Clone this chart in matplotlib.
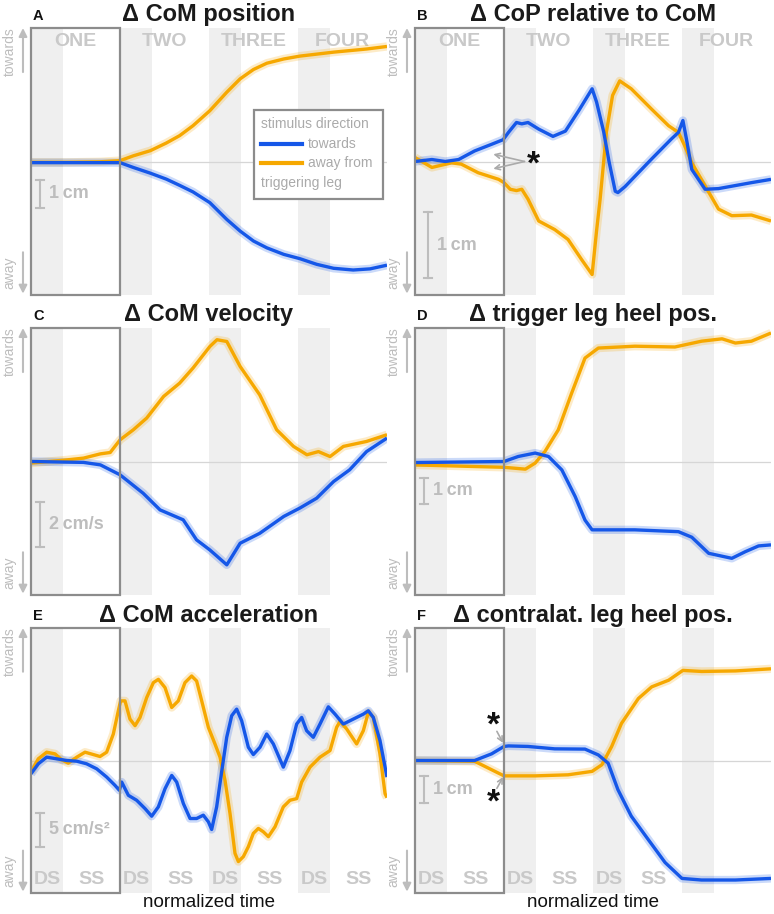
import numpy as np
import matplotlib
matplotlib.use("Agg")
import matplotlib.pyplot as plt
from matplotlib.patches import Rectangle

plt.rcParams['font.family'] = ['Liberation Sans', 'DejaVu Sans']

BLUE = '#1557e8'
ORANGE = '#f6a800'
LIGHT = '#bdbdbd'
BAND = '#efefef'
BOX = '#8c8c8c'

# --- datos (tiempo normalizado en pasos, 0..4) ---
step_names = ['ONE', 'TWO', 'THREE', 'FOUR']
phase_names = ['DS', 'SS']
ds_len = 0.36  # fraccion de doble apoyo en cada paso

# A: CoM position [cm]
a_t_blue = [0, 0.78, 1.0, 1.15, 1.34, 1.52, 1.67, 1.82, 2.01, 2.20, 2.35, 2.50, 2.65,
            2.84, 3.02, 3.21, 3.40, 3.62, 3.81, 4.0]
a_blue = [-0.04, -0.04, -0.04, -0.21, -0.41, -0.62, -0.84, -1.07, -1.45, -2.04, -2.45,
          -2.80, -3.04, -3.27, -3.42, -3.62, -3.76, -3.82, -3.78, -3.65]
a_t_orange = [0, 0.40, 0.78, 1.0, 1.15, 1.34, 1.52, 1.67, 1.82, 2.01, 2.20, 2.35, 2.50,
              2.65, 2.84, 3.02, 3.40, 3.77, 4.0]
a_orange = [-0.03, -0.03, -0.01, 0.03, 0.2, 0.38, 0.65, 0.91, 1.26, 1.79, 2.44, 2.91,
            3.24, 3.46, 3.61, 3.71, 3.85, 3.96, 4.05]

# B: CoP relative to CoM [cm]
b_t_blue = [0, 0.19, 0.34, 0.49, 0.67, 0.86, 0.99, 1.05, 1.14, 1.20, 1.27, 1.39, 1.55,
            1.69, 1.84, 1.99, 2.04, 2.12, 2.18, 2.25, 2.28, 2.36, 2.66, 2.88, 2.96, 3.01,
            3.05, 3.11, 3.26, 3.41, 3.78, 4.0]
b_blue = [0, 0.03, 0, 0.03, 0.16, 0.26, 0.33, 0.44, 0.59, 0.57, 0.59, 0.49, 0.38,
          0.46, 0.77, 1.10, 0.90, 0.45, 0.0, -0.45, -0.47, -0.38, 0.04, 0.34, 0.44, 0.62,
          0.34, -0.12, -0.42, -0.41, -0.32, -0.27]
b_t_orange = [0, 0.19, 0.41, 0.52, 0.71, 0.94, 1.0, 1.07, 1.14, 1.20, 1.27, 1.39, 1.57,
              1.72, 1.87, 1.99, 2.04, 2.08, 2.12, 2.15, 2.22, 2.30, 2.43, 2.66, 2.85,
              2.96, 3.03, 3.11, 3.26, 3.41, 3.56, 3.78, 4.0]
b_orange = [0.06, -0.09, -0.02, -0.04, -0.17, -0.27, -0.32, -0.42, -0.44, -0.42, -0.57,
            -0.90, -1.03, -1.18, -1.48, -1.71, -1.05, -0.57, 0.0, 0.44, 1.0, 1.22, 1.10,
            0.79, 0.54, 0.44, 0.24, -0.02, -0.37, -0.72, -0.82, -0.81, -0.90]

# C: CoM velocity [cm/s]
c_t_blue = [0, 0.59, 0.78, 1.0, 1.26, 1.45, 1.71, 1.86, 2.01, 2.20, 2.35, 2.57, 2.84,
            3.02, 3.21, 3.40, 3.58, 3.77, 4.0]
c_blue = [0, -0.04, -0.15, -0.59, -1.41, -2.15, -2.59, -3.48, -3.93, -4.59, -3.63,
          -3.19, -2.44, -2.07, -1.63, -0.89, -0.37, 0.44, 1.04]
c_t_orange = [0, 0.40, 0.59, 0.78, 0.89, 1.0, 1.15, 1.30, 1.49, 1.67, 1.82, 2.01, 2.09,
              2.20, 2.35, 2.57, 2.76, 2.95, 3.10, 3.23, 3.36, 3.51, 3.77, 4.0]
c_orange = [-0.07, 0.07, 0.15, 0.34, 0.4, 0.96, 1.41, 1.93, 2.89, 3.48, 4.15, 5.11, 5.41,
            5.33, 4.22, 2.96, 1.41, 0.67, 0.30, 0.44, 0.22, 0.67, 0.89, 1.19]

# D: trigger leg heel position [cm]
d_t_blue = [0, 1.0, 1.16, 1.35, 1.50, 1.65, 1.80, 1.91, 1.99, 2.47, 2.96, 3.11, 3.30,
            3.56, 3.71, 3.86, 4.0]
d_blue = [-0.04, 0, 0.19, 0.32, 0.19, -0.32, -1.33, -2.22, -2.59, -2.59, -2.66, -2.87,
          -3.48, -3.67, -3.42, -3.2, -3.16]
d_t_orange = [0, 1.0, 1.24, 1.35, 1.46, 1.61, 1.76, 1.91, 2.06, 2.47, 2.92, 3.22, 3.45,
              3.60, 3.78, 4.0]
d_orange = [-0.13, -0.22, -0.29, -0.06, 0.38, 1.2, 2.59, 3.92, 4.30, 4.37, 4.34, 4.56,
            4.65, 4.49, 4.56, 4.87]

# E: CoM acceleration [cm/s^2]
e_t_blue = [0, 0.082, 0.176, 0.288, 0.401, 0.513, 0.625, 0.738, 0.850, 0.944, 0.993,
            1.019, 1.094, 1.187, 1.281, 1.356, 1.431, 1.506, 1.581, 1.637, 1.712, 1.787,
            1.861, 1.936, 1.993, 2.030, 2.086, 2.139, 2.199, 2.255, 2.311, 2.367, 2.442,
            2.498, 2.573, 2.648, 2.723, 2.835, 2.910, 2.985, 3.041, 3.097, 3.172, 3.247,
            3.341, 3.416, 3.509, 3.622, 3.734, 3.790, 3.846, 3.921, 4.0]
e_blue = [-1.96, -0.49, 0.49, 0.25, 0.0, -0.10, -0.49, -1.23, -2.45, -3.68, -4.41,
          -3.19, -5.15, -5.88, -7.11, -8.24, -6.86, -4.17, -2.21, -3.19, -6.37, -8.58,
          -8.58, -8.09, -9.07, -10.2, -6.86, -1.96, 3.43, 6.62, 7.60, 5.88, 1.96, 0.88,
          1.96, 3.92, 2.45, -0.98, 1.47, 5.39, 6.37, 4.41, 3.43, 5.39, 7.94, 6.86, 5.39,
          6.13, 6.86, 7.35, 6.37, 2.94, -2.45]
e_t_orange = [0, 0.082, 0.176, 0.270, 0.345, 0.419, 0.513, 0.607, 0.700, 0.775, 0.850,
              0.925, 0.981, 1.007, 1.056, 1.112, 1.169, 1.225, 1.300, 1.375, 1.431, 1.506,
              1.581, 1.655, 1.730, 1.805, 1.861, 1.918, 1.993, 2.067, 2.124, 2.180, 2.236,
              2.292, 2.330, 2.386, 2.442, 2.498, 2.554, 2.610, 2.667, 2.742, 2.835, 2.910,
              2.985, 3.041, 3.135, 3.247, 3.360, 3.434, 3.472, 3.547, 3.659, 3.734, 3.790,
              3.846, 3.921, 3.978, 4.0]
e_orange = [-1.72, 0.25, 1.23, 0.98, 0.10, -0.39, 0.49, 1.23, 0.88, 0.59, 1.23, 3.92,
            7.35, 8.82, 8.82, 6.13, 5.15, 6.37, 9.31, 11.52, 12.01, 10.78, 7.84, 8.82,
            11.52, 12.5, 11.76, 8.82, 4.90, 2.45, 0.49, -2.94, -7.84, -13.73, -14.95,
            -14.22, -12.75, -10.78, -10.05, -10.54, -11.27, -9.80, -6.86, -5.88, -5.64,
            -3.19, -0.98, 0.49, 1.47, 4.90, 5.78, 4.66, 2.45, 4.41, 7.11, 6.37, 0.98,
            -4.90, -5.49]

# F: contralateral leg heel position [cm]
f_t_blue = [0, 0.67, 0.86, 1.0, 1.05, 1.27, 1.57, 1.91, 2.06, 2.17, 2.28, 2.43, 2.62,
            2.81, 3.0, 3.22, 3.60, 4.0]
f_blue = [0, 0, 0.25, 0.53, 0.55, 0.53, 0.44, 0.43, 0.21, -0.1, -1.1, -2.1, -2.98,
          -3.85, -4.45, -4.51, -4.51, -4.45]
f_t_orange = [0, 0.67, 0.79, 1.0, 1.35, 1.72, 1.99, 2.10, 2.21, 2.32, 2.51, 2.66, 2.85,
              3.01, 3.22, 3.60, 4.0]
f_orange = [0, -0.03, -0.23, -0.58, -0.58, -0.54, -0.41, -0.16, 0.53, 1.4, 2.34, 2.78,
            3.03, 3.4, 3.36, 3.38, 3.46]


def dibujar_panel(ax, letra, titulo, ylim, t_b, y_b, t_o, y_o, barra, texto_barra, barra_x):
    ax.set_xlim(0, 4)
    ax.set_ylim(-ylim, ylim)
    ax.axis('off')
    # bandas de doble apoyo
    for k in range(4):
        ax.axvspan(k, k + ds_len, color=BAND, lw=0, zorder=0)
    ax.axhline(0, color='#d6d6d6', lw=0.9, zorder=1)
    # caja del primer paso
    ax.add_patch(Rectangle((0, -ylim), 1, 2 * ylim, fill=False, ec=BOX, lw=1.6,
                           zorder=6, clip_on=False))
    # curvas con banda de confianza
    for t, y, c in [(t_o, y_o, ORANGE), (t_b, y_b, BLUE)]:
        ax.plot(t, y, color=c, lw=6, alpha=0.22, zorder=3, solid_capstyle='butt')
        ax.plot(t, y, color=c, lw=2.4, zorder=4, solid_capstyle='butt')
    # barra de escala
    ax.plot([barra_x, barra_x], barra, color=LIGHT, lw=1.5, zorder=5)
    for yy in barra:
        ax.plot([barra_x - 0.045, barra_x + 0.045], [yy, yy], color=LIGHT, lw=1.5, zorder=5)
    ax.text(barra_x + 0.1, np.mean(barra), texto_barra, color=LIGHT, fontsize=13,
            fontweight='bold', va='center', ha='left', zorder=5)
    # titulo y letra
    ax.text(0.5, 1.049, titulo, transform=ax.transAxes, ha='center', va='center',
            fontsize=17, fontweight='bold', color='#1a1a1a')
    ax.text(0.006, 1.045, letra, transform=ax.transAxes, ha='left', va='center',
            fontsize=10.5, fontweight='bold', color='#111111')
    # flechas towards / away
    flecha = dict(arrowstyle='-|>', color=LIGHT, lw=1.5, mutation_scale=12,
                  shrinkA=0, shrinkB=0)
    ax.annotate('', xy=(-0.0225, 1.0), xytext=(-0.0225, 0.835), xycoords='axes fraction',
                arrowprops=flecha, annotation_clip=False)
    ax.annotate('', xy=(-0.0225, 0.005), xytext=(-0.0225, 0.16), xycoords='axes fraction',
                arrowprops=flecha, annotation_clip=False)
    ax.text(-0.06, 0.91, 'towards', rotation=90, transform=ax.transAxes, color=LIGHT,
            fontsize=10, ha='center', va='center')
    ax.text(-0.06, 0.085, 'away', rotation=90, transform=ax.transAxes, color=LIGHT,
            fontsize=10, ha='center', va='center')


def asterisco(ax, x, y):
    # el asterisco queda alto en la linea, se baja la linea base
    ax.annotate('*', xy=(x, y), xytext=(0, -9), textcoords='offset points',
                ha='center', va='baseline', fontsize=24, fontweight='bold',
                color='#111111', zorder=8)


fig = plt.figure(figsize=(7.74, 9.14), dpi=100)
W, H = 774, 914
izq = [31, 415]
filas = [(28, 295), (328, 595), (628, 893)]
axs = []
for (top, bot) in filas:
    fila = []
    for x0 in izq:
        fila.append(fig.add_axes([x0 / W, 1 - bot / H, 356 / W, (bot - top) / H]))
    axs.append(fila)

axA, axB = axs[0]
axC, axD = axs[1]
axE, axF = axs[2]

dibujar_panel(axA, 'A', '\u0394 CoM position', 4.7, a_t_blue, a_blue, a_t_orange, a_orange,
              [-0.64, -1.64], '1\u2009cm', 0.10)
dibujar_panel(axB, 'B', '\u0394 CoP relative to CoM', 2.02, b_t_blue, b_blue, b_t_orange,
              b_orange, [-0.76, -1.77], '1\u2009cm', 0.15)
dibujar_panel(axC, 'C', '\u0394 CoM velocity', 5.93, c_t_blue, c_blue, c_t_orange, c_orange,
              [-1.78, -3.78], '2\u2009cm/s', 0.10)
dibujar_panel(axD, 'D', '\u0394 trigger leg heel pos.', 5.06, d_t_blue, d_blue, d_t_orange,
              d_orange, [-0.61, -1.61], '1\u2009cm', 0.10)
dibujar_panel(axE, 'E', '\u0394 CoM acceleration', 19.6, e_t_blue, e_blue, e_t_orange,
              e_orange, [-7.75, -12.75], '5\u2009cm/s\u00b2', 0.10)
dibujar_panel(axF, 'F', '\u0394 contralat. leg heel pos.', 5.0, f_t_blue, f_blue, f_t_orange,
              f_orange, [-0.6, -1.6], '1\u2009cm', 0.10)

# nombres de los pasos (fila superior)
for ax in (axA, axB):
    for k, nombre in enumerate(step_names):
        ax.text(k + 0.5, 0.948, nombre, transform=ax.get_xaxis_transform(), ha='center',
                va='center', fontsize=14, fontweight='bold', color='#c9c9c9', zorder=2)

# fases DS / SS (fila inferior); en F el cuarto paso queda sin etiquetas
for ax, npasos in ((axE, 4), (axF, 3)):
    for k in range(npasos):
        ax.text(k + ds_len / 2, 0.05, phase_names[0], transform=ax.get_xaxis_transform(),
                ha='center', va='center', fontsize=14, fontweight='bold', color='#c9c9c9',
                zorder=2)
        ax.text(k + (1 + ds_len) / 2, 0.05, phase_names[1], transform=ax.get_xaxis_transform(),
                ha='center', va='center', fontsize=14, fontweight='bold', color='#c9c9c9',
                zorder=2)
    ax.text(0.5, -0.036, 'normalized time', transform=ax.transAxes, ha='center', va='center',
            fontsize=13.5, color='#111111')

# leyenda del panel A
axA.add_patch(Rectangle((0.626, 0.36), 0.363, 0.333, transform=axA.transAxes, fc='white',
                        ec=BOX, lw=1.6, zorder=7))
axA.text(0.646, 0.64, 'stimulus direction', transform=axA.transAxes, color='#aaaaaa',
         fontsize=10, va='center', ha='left', zorder=8)
axA.plot([0.646, 0.761], [0.567, 0.567], transform=axA.transAxes, color=BLUE, lw=3, zorder=8)
axA.text(0.778, 0.567, 'towards', transform=axA.transAxes, color='#aaaaaa', fontsize=10,
         va='center', ha='left', zorder=8)
axA.plot([0.646, 0.761], [0.494, 0.494], transform=axA.transAxes, color=ORANGE, lw=3, zorder=8)
axA.text(0.778, 0.494, 'away from', transform=axA.transAxes, color='#aaaaaa', fontsize=10,
         va='center', ha='left', zorder=8)
axA.text(0.646, 0.419, 'triggering leg', transform=axA.transAxes, color='#aaaaaa',
         fontsize=10, va='center', ha='left', zorder=8)

# asteriscos de significancia
gris = dict(arrowstyle='->', color='#aaaaaa', lw=1.2, mutation_scale=9, shrinkA=0, shrinkB=0)
asterisco(axB, 1.33, 0.0)
axB.annotate('', xy=(0.88, 0.11), xytext=(1.23, 0.0), arrowprops=gris, zorder=8)
axB.annotate('', xy=(0.88, -0.11), xytext=(1.23, 0.0), arrowprops=gris, zorder=8)
asterisco(axF, 0.88, 1.45)
axF.annotate('', xy=(0.99, 0.66), xytext=(0.92, 1.1), arrowprops=gris, zorder=8)
asterisco(axF, 0.88, -1.47)
axF.annotate('', xy=(0.99, -0.62), xytext=(0.92, -1.05), arrowprops=gris, zorder=8)

fig.savefig('out.png', dpi=100)
